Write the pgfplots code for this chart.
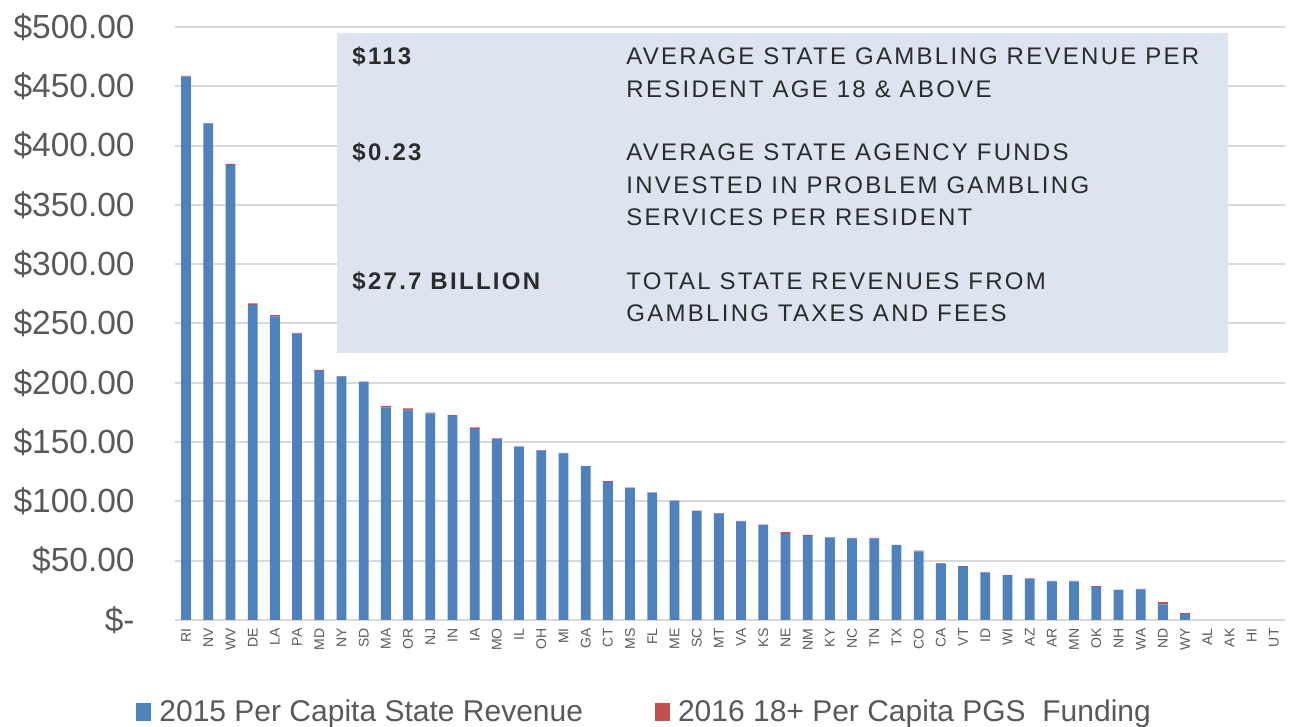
\documentclass[border=0pt]{standalone}
\usepackage{fontspec}
\setmainfont{Liberation Sans}
\usepackage{pgfplots}
\usepackage{pgfplotstable}
\pgfplotsset{compat=1.18}
\definecolor{barblue}{HTML}{4F81BD}
\definecolor{barred}{HTML}{C0504D}
\definecolor{gridgray}{HTML}{D9D9D9}
\definecolor{labgray}{HTML}{595959}
\definecolor{boxblue}{HTML}{DCE4F0}
\definecolor{boxtext}{HTML}{2B2B2B}

\pgfplotstableread{
x blue red
0 458.1 0.6
1 418.5 0.5
2 383.6 0.9
3 265.5 1.5
4 256.0 1.0
5 241.5 0.5
6 210.0 0.8
7 205.2 0.5
8 200.5 0.5
9 179.0 1.5
10 176.5 2.0
11 174.3 0.5
12 172.2 0.6
13 161.1 1.4
14 152.7 0.5
15 146.2 0.2
16 142.8 0.5
17 140.4 0.6
18 129.7 0.1
19 116.2 0.8
20 111.3 0.3
21 107.5 0.2
22 100.3 0.3
23 91.8 0.4
24 90.0 0.2
25 83.2 0.3
26 79.9 0.5
27 72.5 1.5
28 71.0 0.8
29 69.6 0.1
30 68.7 0.5
31 68.7 0.5
32 63.2 0.1
33 57.9 0.6
34 47.5 0.5
35 44.8 0.7
36 39.8 0.3
37 37.3 0.6
38 34.5 0.5
39 32.6 0.4
40 32.5 0.5
41 27.8 0.7
42 25.3 0.1
43 25.8 0.5
44 13.2 1.8
45 4.9 0.8
46 0 0
47 0 0
48 0 0
49 0 0
}\data

\newcommand{\boxfont}{\fontsize{12pt}{14pt}\selectfont\addfontfeatures{LetterSpace=9.5}}

\begin{document}
\begin{tikzpicture}
\path[use as bounding box] (-87.5pt,-53.5pt) rectangle (558.5pt,310pt);
\begin{axis}[
  at={(0,0)}, anchor=south west,
  scale only axis, width=555pt, height=296.5pt,
  ybar stacked, bar width=4.9pt,
  xmin=-0.5, xmax=49.5, ymin=0, ymax=500,
  xtick=data,
  xticklabels={RI,NV,WV,DE,LA,PA,MD,NY,SD,MA,OR,NJ,IN,IA,MO,IL,OH,MI,GA,CT,MS,FL,ME,SC,MT,VA,KS,NE,NM,KY,NC,TN,TX,CO,CA,VT,ID,WI,AZ,AR,MN,OK,NH,WA,ND,WY,AL,AK,HI,UT},
  xticklabel style={rotate=90, anchor=east, inner sep=0pt, font=\fontsize{7pt}{8pt}\selectfont, text=labgray},
  xticklabel shift=4pt,
  ytick={0,50,...,500},
  yticklabels={\$-\hspace{9pt},\$50.00,\$100.00,\$150.00,\$200.00,\$250.00,\$300.00,\$350.00,\$400.00,\$450.00,\$500.00},
  yticklabel style={inner sep=0pt, font=\fontsize{16.75pt}{20pt}\selectfont, text=labgray},
  yticklabel shift=20pt,
  major tick length=0pt,
  axis line style={draw=none},
  ymajorgrids, grid style={gridgray, line width=1pt},
  legend style={at={(-0.0405,-0.155)}, anchor=west, legend columns=2, draw=none, fill=none,
    font=\fontsize{15pt}{18pt}\selectfont, text=labgray,
    /tikz/every even column/.append style={column sep=34pt}},
  legend image code/.code={\fill[#1, draw=none] (0pt,-4.5pt) rectangle (7.5pt,4.5pt);},
]
\addplot[fill=barblue, draw=none] table[x=x, y=blue] {\data};
\addlegendentry{\hspace{2pt}2015 Per Capita State Revenue}
\addplot[fill=barred, draw=none] table[x=x, y=red] {\data};
\addlegendentry{\hspace{2pt}2016 18+ Per Capita PGS\ \ Funding}
\end{axis}
\fill[boxblue] (81pt,133.5pt) rectangle (526.5pt,293.5pt);
\begin{scope}[every node/.style={anchor=base west, inner sep=0pt, text=boxtext}]
\node at (88.5pt,277.5pt) {\boxfont\bfseries \$113};
\node at (225.5pt,277.5pt) {\boxfont AVERAGE STATE GAMBLING REVENUE PER};
\node at (225.5pt,261.25pt) {\boxfont RESIDENT AGE 18 \& ABOVE};
\node at (88.5pt,229.5pt) {\boxfont\bfseries \$0.23};
\node at (225.5pt,229.5pt) {\boxfont AVERAGE STATE AGENCY FUNDS};
\node at (225.5pt,213.25pt) {\boxfont INVESTED IN PROBLEM GAMBLING};
\node at (225.5pt,197pt) {\boxfont SERVICES PER RESIDENT};
\node at (88.5pt,165pt) {\boxfont\bfseries \$27.7 BILLION};
\node at (225.5pt,165pt) {\boxfont TOTAL STATE REVENUES FROM};
\node at (225.5pt,149pt) {\boxfont GAMBLING TAXES AND FEES};
\end{scope}
\end{tikzpicture}
\end{document}
